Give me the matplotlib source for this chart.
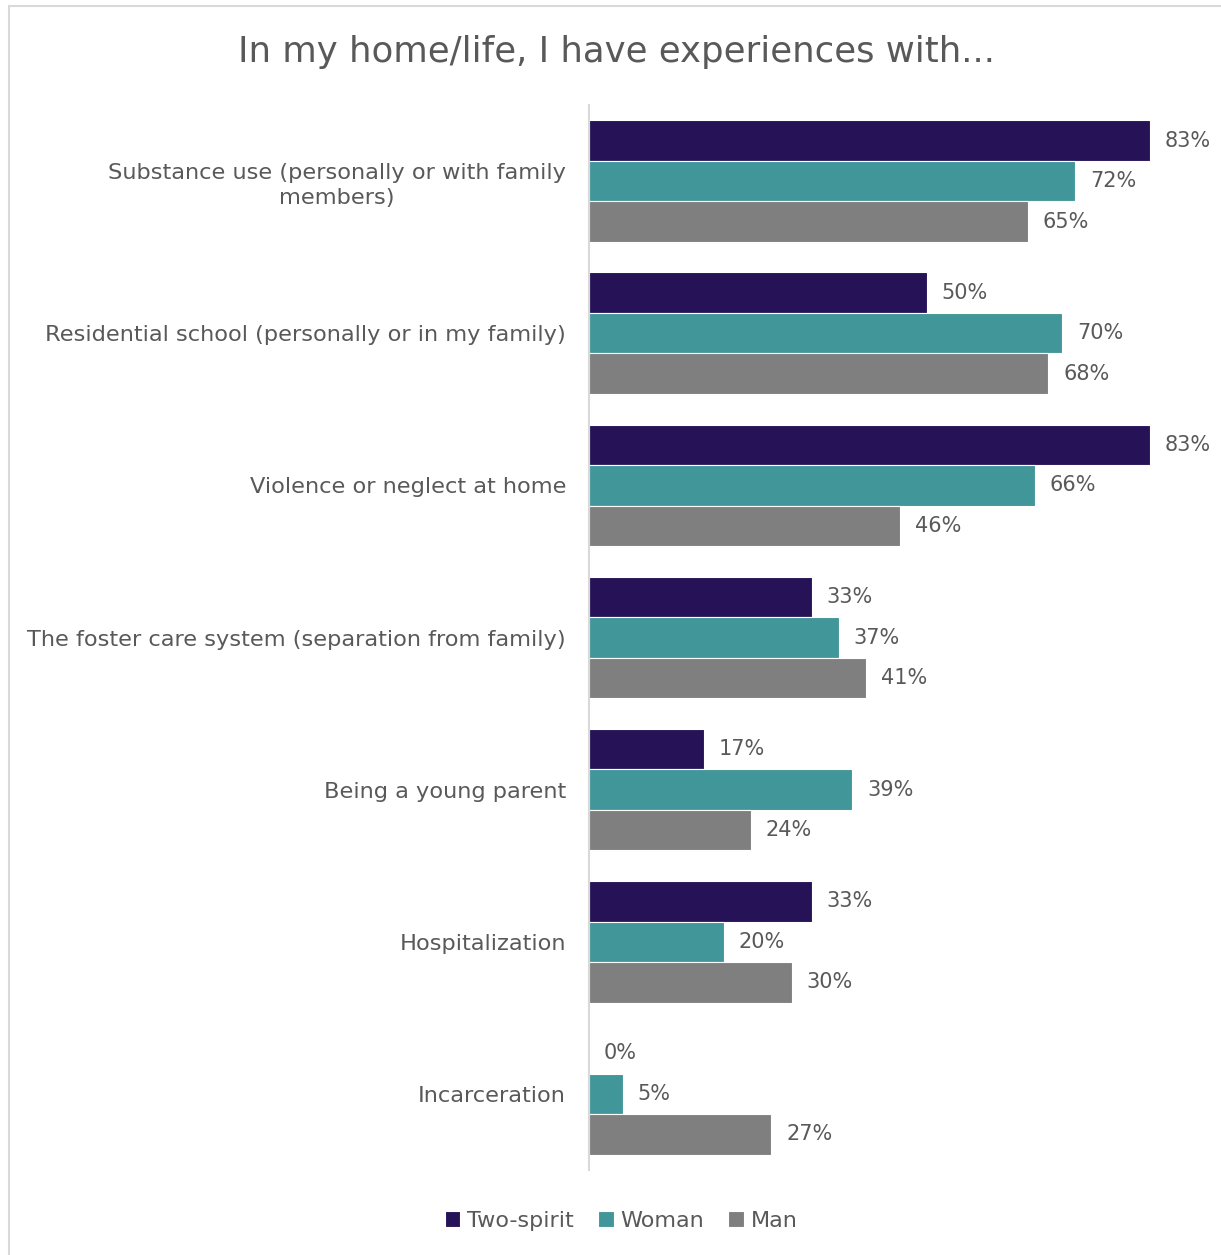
import numpy as np
import matplotlib.pyplot as plt
from matplotlib.patches import Rectangle

plt.rcParams['font.family'] = ['DejaVu Sans']

categories = [
    "Substance use (personally or with family\nmembers)",
    "Residential school (personally or in my family)",
    "Violence or neglect at home",
    "The foster care system (separation from family)",
    "Being a young parent",
    "Hospitalization",
    "Incarceration",
]
two_spirit = [0.83, 0.50, 0.83, 0.33, 0.17, 0.33, 0.00]
woman = [0.72, 0.70, 0.66, 0.37, 0.39, 0.20, 0.05]
man = [0.65, 0.68, 0.46, 0.41, 0.24, 0.30, 0.27]

series = [("Two-spirit", two_spirit, "#261257"),
          ("Woman", woman, "#41969A"),
          ("Man", man, "#7F7F7F")]

text_col = "#595959"
W, H = 1221, 1255
fig = plt.figure(figsize=(W / 100, H / 100), dpi=100)

# light frame round the chart area
fig.patches.append(Rectangle((8.5 / W, -0.01), 1.05, 1 - 6 / H + 0.01,
                             transform=fig.transFigure, fill=False,
                             edgecolor="#D9D9D9", linewidth=1.5))

ax = fig.add_axes([589 / W, 1 - 1170 / H, 608 / W, 1065 / H])

y = np.arange(len(categories))
h = 0.2665
for i, (name, vals, col) in enumerate(series):
    pos = y + (i - 1) * h
    bars = ax.barh(pos, vals, height=h, color=col, edgecolor="white",
                   linewidth=0.8, label=name)
    for b, v in zip(bars, vals):
        ax.text(v + 0.022, b.get_y() + b.get_height() / 2, f"{v:.0%}",
                va="center", ha="left", fontsize=15, color=text_col)

ax.set_xlim(0, 0.9)
ax.set_ylim(len(categories) - 0.5, -0.5)
ax.set_yticks(y)
ax.set_yticklabels(categories, fontsize=16.2, color=text_col)
for lbl in ax.get_yticklabels():
    lbl.set_multialignment("center")
    lbl.set_linespacing(1.3)
ax.tick_params(axis="y", length=0, pad=16.5)
ax.set_xticks([])
for s in ("top", "right", "bottom"):
    ax.spines[s].set_visible(False)
ax.spines["left"].set_color("#D9D9D9")
ax.spines["left"].set_linewidth(1.5)

fig.text(616 / W, 1 - 52 / H, "In my home/life, I have experiences with...",
         ha="center", va="center", fontsize=25.6, color=text_col)

handles, labels = ax.get_legend_handles_labels()
fig.legend(handles, labels, loc="center", bbox_to_anchor=(621 / W, 1 - 1221 / H),
           ncol=3, frameon=False, fontsize=16, labelcolor=text_col,
           handlelength=0.7, handleheight=0.7, handletextpad=0.3,
           columnspacing=1.1)

fig.savefig("out.png", dpi=100, facecolor="white")
